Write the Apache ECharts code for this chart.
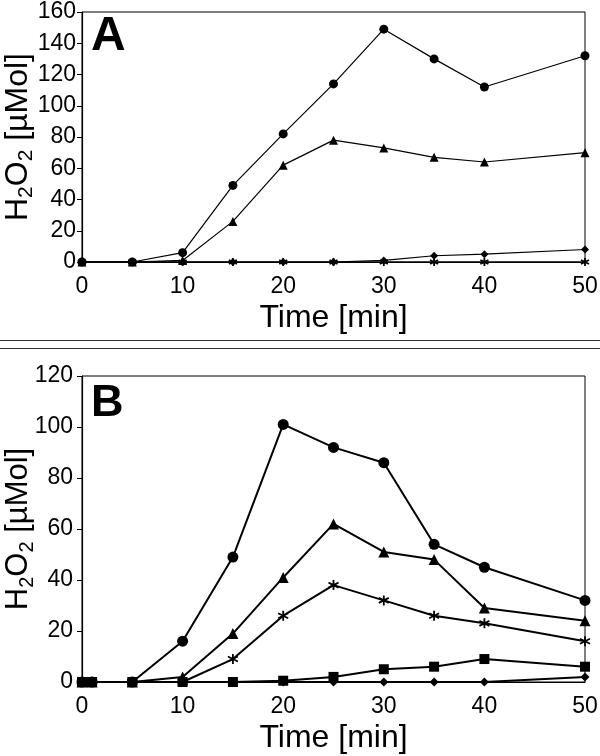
<!DOCTYPE html>
<html>
<head>
<meta charset="utf-8">
<script src="https://cdn.jsdelivr.net/npm/echarts@6/dist/echarts.min.js"></script>
<style>
html,body{margin:0;padding:0;background:#fff;}
#chart{width:600px;height:756px;}
</style>
</head>
<body>
<div id="chart"></div>
<script>
// ---- Data ----
const xTicks = [0, 10, 20, 30, 40, 50];

// Panel A
const timeA = [0, 5, 10, 15, 20, 25, 30, 35, 40, 50];
const circleA   = [0, 0, 6, 49, 82, 114, 149, 130, 112, 132];
const triangleA = [0, 0, 1, 26, 62, 78, 73, 67, 64, 70];
const diamondA  = [0, 0, 0, 0, 0, 0, 1, 4, 5, 8];
const starA     = [0, 0, 0, 0, 0, 0, 0, 0, 0, 0];
const yTicksA = [0, 20, 40, 60, 80, 100, 120, 140, 160];

// Panel B
const timeB = [0, 1, 5, 10, 15, 20, 25, 30, 35, 40, 50];
const circleB   = [0, 0, 0, 16, 49, 101, 92, 86, 54, 45, 32];
const triangleB = [0, 0, 0, 2, 19, 41, 62, 51, 48, 29, 24];
const starB     = [0, 0, 0, 0, 9, 26, 38, 32, 26, 23, 16];
const squareB   = [0, 0, 0, 0, 0, 0.5, 2, 5, 6, 9, 6];
const diamondB  = [0, 0, 0, 0, 0, 0, 0, 0, 0, 0, 2];
const yTicksB = [0, 20, 40, 60, 80, 100, 120];

const FONT = 'Liberation Sans, Arial, sans-serif';
const STAR = 'path://M0,-5L0,5M-4.33,-2.5L4.33,2.5M-4.33,2.5L4.33,-2.5';

function pts(t, v) { return t.map((x, i) => [x, v[i]]); }

function mkSeries(name, t, v, sym, size, lw, gi) {
  const isStar = sym === STAR;
  return {
    name, type: 'line', xAxisIndex: gi, yAxisIndex: gi,
    data: pts(t, v), symbol: sym, symbolSize: size,
    showSymbol: true, animation: false, silent: true,
    lineStyle: { color: '#000', width: lw },
    itemStyle: isStar ? { color: 'rgba(0,0,0,0)', borderColor: '#000', borderWidth: 1.8 }
                      : { color: '#000', borderWidth: 0 },
    z: 3
  };
}

function xAxis(gridIndex) {
  return {
    type: 'value', gridIndex, min: xTicks[0], max: xTicks[xTicks.length - 1], interval: 10,
    name: 'Time [min]', nameLocation: 'middle', nameGap: 40, nameMoveOverlap: false,
    nameTextStyle: { fontFamily: FONT, fontSize: 32, color: '#000', verticalAlign: 'top' },
    axisLine: { show: true, onZero: false, lineStyle: { color: '#000', width: 1.2 } },
    axisTick: { show: false },
    axisLabel: { fontFamily: FONT, fontSize: 23, color: '#000', margin: 13 },
    splitLine: { show: false }
  };
}

function yAxis(gridIndex, ticks, fs, gap, margin) {
  return {
    type: 'value', gridIndex, min: ticks[0], max: ticks[ticks.length - 1], interval: 20,
    name: '{n|H}{s|2}{n|O}{s|2}{n| [µMol]}', nameLocation: 'middle', nameGap: gap,
    nameMoveOverlap: false,
    nameTextStyle: {
      fontFamily: FONT, fontSize: fs, color: '#000',
      rich: {
        n: { fontFamily: FONT, fontSize: fs, color: '#000', lineHeight: fs * 1.2 },
        s: { fontFamily: FONT, fontSize: Math.round(fs * 0.66), color: '#000', verticalAlign: 'bottom', lineHeight: fs * 1.2 }
      }
    },
    axisLine: { show: true, onZero: false, lineStyle: { color: '#000', width: 1.2 } },
    axisTick: { show: true, inside: false, length: 5, lineStyle: { color: '#000', width: 1 } },
    axisLabel: { fontFamily: FONT, fontSize: 23, color: '#000', margin: margin },
    splitLine: { show: false }
  };
}

const chart = echarts.init(document.getElementById('chart'), null, { renderer: 'canvas' });
const option = {
  backgroundColor: '#fff',
  animation: false,
  grid: [
    { left: 82, right: 15, top: 12, height: 250, show: true, borderColor: '#000', borderWidth: 1,
      backgroundColor: 'transparent', containLabel: false, outerBoundsMode: 'none' },
    { left: 82, right: 15, top: 376, height: 306, show: true, borderColor: '#000', borderWidth: 1,
      backgroundColor: 'transparent', containLabel: false, outerBoundsMode: 'none' }
  ],
  xAxis: [xAxis(0), xAxis(1)],
  yAxis: [yAxis(0, yTicksA, 32, 45, 6), yAxis(1, yTicksB, 31, 45, 9)],
  series: [
    mkSeries('A circle', timeA, circleA, 'circle', 9, 1.2, 0),
    mkSeries('A triangle', timeA, triangleA, 'triangle', 9, 1.2, 0),
    mkSeries('A diamond', timeA, diamondA, 'diamond', 8, 1.2, 0),
    mkSeries('A star', timeA, starA, STAR, 8, 1.2, 0),
    mkSeries('B circle', timeB, circleB, 'circle', 11, 2, 1),
    mkSeries('B triangle', timeB, triangleB, 'triangle', 11, 2, 1),
    mkSeries('B star', timeB, starB, STAR, 10, 2, 1),
    mkSeries('B diamond', timeB, diamondB, 'diamond', 9, 2, 1),
    mkSeries('B square', timeB, squareB, 'rect', 10, 2, 1)
  ],
  graphic: [
    { type: 'text', left: 91, top: 13, silent: true,
      style: { text: 'A', fontFamily: FONT, fontWeight: 'bold', fontSize: 48, fill: '#000' } },
    { type: 'text', left: 91, top: 381, silent: true,
      style: { text: 'B', fontFamily: FONT, fontWeight: 'bold', fontSize: 45, fill: '#000' } },
    { type: 'line', silent: true, shape: { x1: 0, y1: 340.5, x2: 600, y2: 340.5 }, style: { stroke: '#333', lineWidth: 1 } },
    { type: 'line', silent: true, shape: { x1: 0, y1: 348.5, x2: 600, y2: 348.5 }, style: { stroke: '#333', lineWidth: 1 } }
  ]
};
chart.setOption(option);
</script>
</body>
</html>
